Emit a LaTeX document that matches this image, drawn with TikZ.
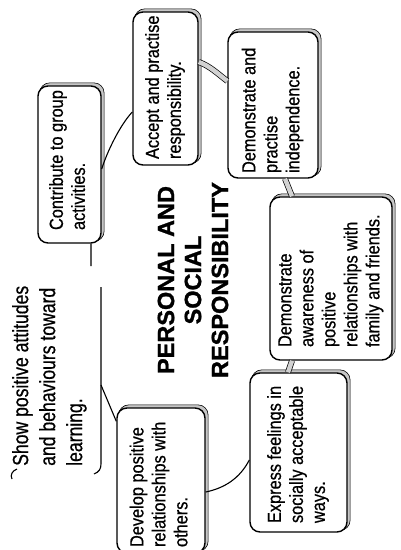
\documentclass[tikz,border=0pt]{standalone}
\usepackage{fontspec}
\setmainfont{Liberation Sans}[FakeStretch=0.86, FakeBold=0.6]
\newfontfamily\showfont{Liberation Sans}[FakeStretch=0.8, FakeBold=0.6]
\newfontfamily\titlefont{Liberation Sans}[FakeBold=1.2]
\usepackage{graphicx}
\usetikzlibrary{backgrounds}
\newcommand{\rtext}[2]{\rotatebox{90}{\makebox[#1][l]{\begin{tabular}{@{}l@{}}#2\end{tabular}}}}
\tikzset{
  boxst/.style={draw=black, line width=1.4bp, rounded corners=10bp, fill=white, inner sep=0pt,
    font=\fontsize{19bp}{22bp}\selectfont},
  shadowst/.style={draw=black, fill=gray!45, line width=0.6bp, rounded corners=10bp},
  band/.style={draw=black, line width=0.7bp, double=gray!35, double distance=4.5bp},
  thinline/.style={draw=black, line width=1.1bp}
}
\begin{document}
\begin{tikzpicture}[x=1bp,y=-1bp]
\useasboundingbox (0,0) rectangle (400,550);

\node[boxst, minimum width=63bp, minimum height=157bp] (contribute) at (69.5,164.5)
  {\rtext{131bp}{Contribute to group\\activities.}};
\node[boxst, minimum width=65bp, minimum height=153bp] (accept) at (165.5,88.5)
  {\rtext{141bp}{Accept and practise\\responsibility.}};
\node[boxst, minimum width=90bp, minimum height=146bp] (indep) at (273,105)
  {\rtext{136bp}{Demonstrate and\\practise\\independence.}};
\node[boxst, minimum width=122bp, minimum height=163bp] (aware) at (331,278.5)
  {\rtext{137bp}{Demonstrate\\awareness of\\positive\\relationships with\\family and friends.}};
\node[boxst, minimum width=97bp, minimum height=159bp] (express) at (298.5,452.5)
  {\rtext{141bp}{Express feelings in\\socially acceptable\\ways.}};
\node[boxst, minimum width=88bp, minimum height=145bp] (develop) at (161,480.5)
  {\rtext{133bp}{Develop positive\\relationships with\\others.}};

\node[rotate=90, anchor=north west, inner sep=0pt, align=left,
  font=\showfont\fontsize{22bp}{27bp}\selectfont] (show) at (12,466)
  {Show positive attitudes\\and behaviours toward\\learning.};

\node[rotate=90, align=center, inner sep=0pt,
  font=\titlefont\bfseries\fontsize{23.5bp}{27bp}\selectfont] (title) at (193,280)
  {PERSONAL AND\\SOCIAL\\RESPONSIBILITY};

\begin{scope}[on background layer]
  \fill[white] (0,0) rectangle (400,550);
  \foreach \n in {contribute,accept,indep,aware,express,develop}{
    \path[shadowst] ([shift={(2.4,-2.4)}]\n.south west) rectangle ([shift={(2.4,-2.4)}]\n.north east);
  }
\end{scope}

% partial frame of the "Show" text
\coordinate (showtop) at (101,287);
\coordinate (showb) at (101,385);
\draw[thinline] (showtop) -- (101,464) .. controls (101,469) and (99,472) .. (94,474);
\draw[thinline] (17,469) .. controls (12,471) and (10,475) .. (12,479);

% connectors
\coordinate (cstub) at (91,266);
\draw[thinline] ([xshift=21.5bp]contribute.south) -- (cstub);
\draw[thinline] ([yshift=-4.5bp]contribute.east) .. controls (107,152) and (120,125) .. ([yshift=-23.5bp]accept.west);
\draw[band] ([yshift=26.5bp]accept.east) .. controls (210,66) and (218,74) .. ([yshift=24bp]indep.west);
\draw[band] ([xshift=12bp]indep.south) -- ([xshift=-39bp]aware.north);
\draw[band] ([xshift=-39bp]aware.south) -- ([xshift=-10.5bp]express.north);
\draw[thinline] ([yshift=-7.5bp]express.west) .. controls (240,478) and (225,488) .. ([yshift=-11.5bp]develop.east);
\draw[thinline] ([yshift=-14bp]develop.north west) -- (showb);
\end{tikzpicture}
\end{document}
